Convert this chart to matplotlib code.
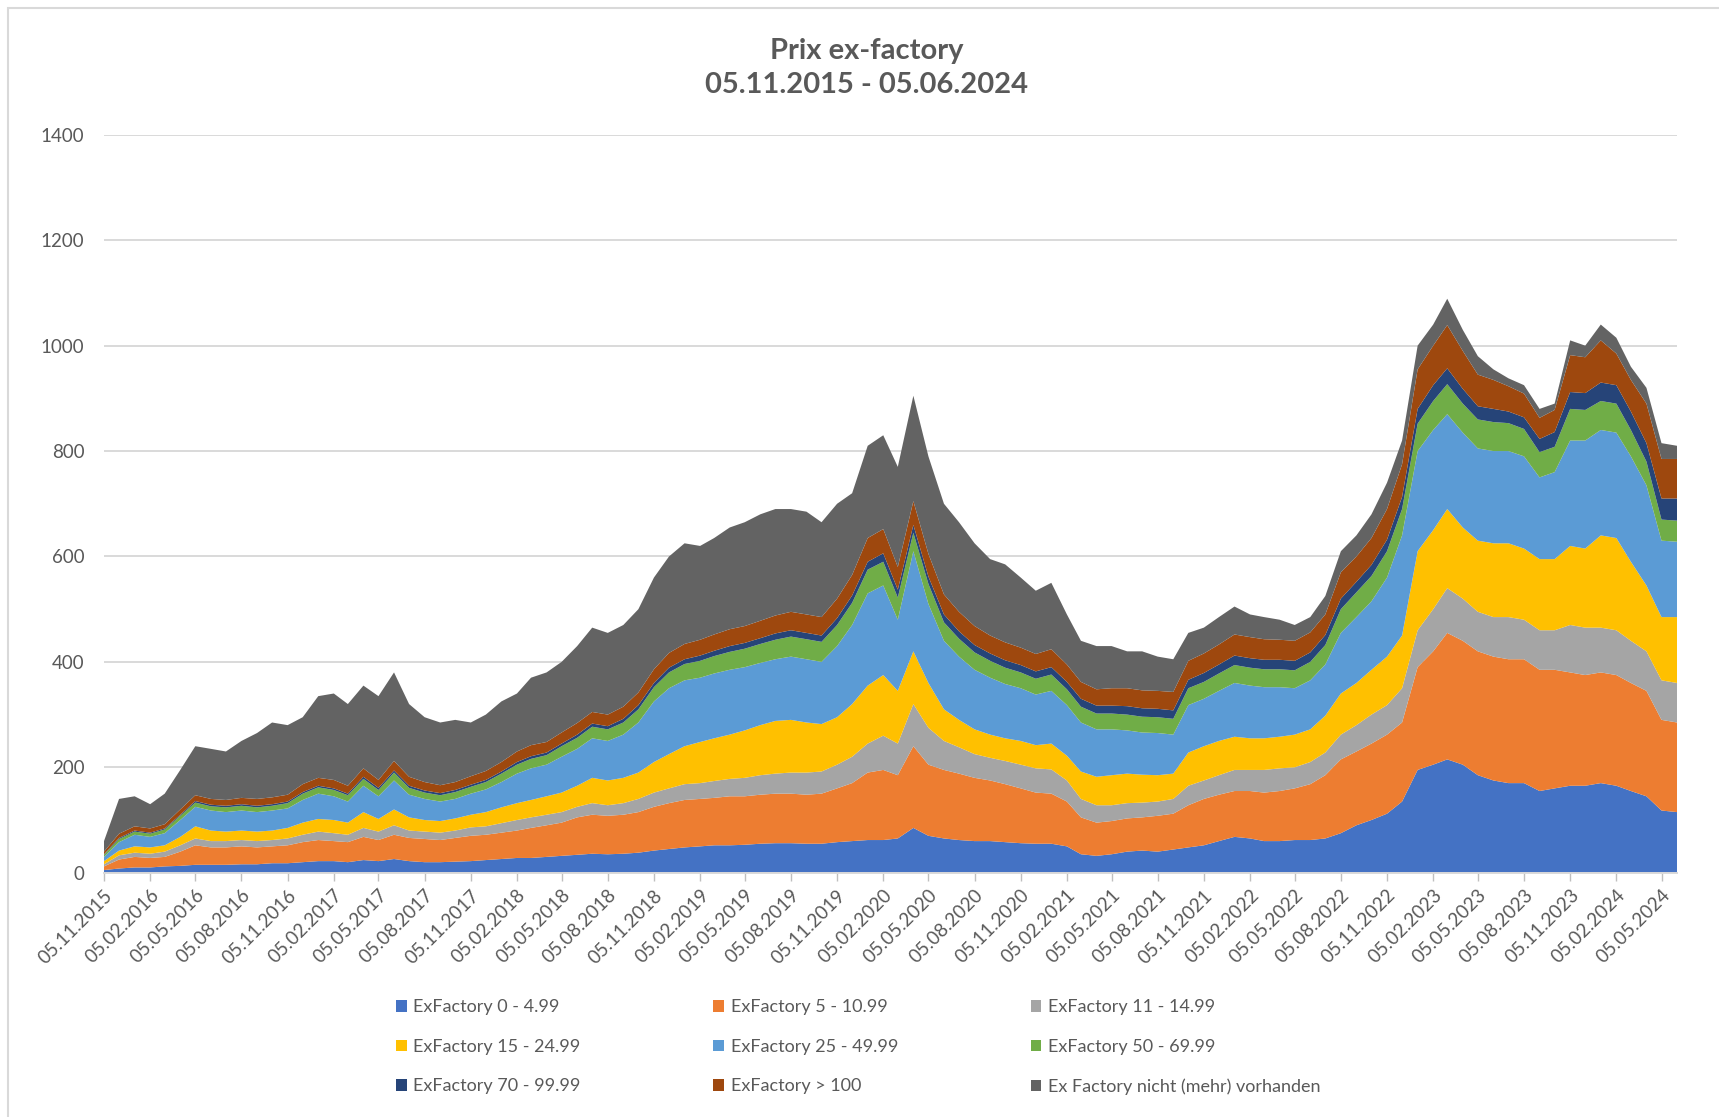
import pandas as pd
import matplotlib
matplotlib.use("Agg")
import matplotlib.pyplot as plt
from matplotlib.patches import Rectangle

# ---------------------------
# DATA (monthly readings, 05.11.2015 - 05.06.2024)
# ---------------------------
dates = pd.date_range("2015-11-01", "2024-06-01", freq="MS") + pd.Timedelta(days=4)

labels = [
    "ExFactory 0 - 4.99",
    "ExFactory 5 - 10.99",
    "ExFactory 11 - 14.99",
    "ExFactory 15 - 24.99",
    "ExFactory 25 - 49.99",
    "ExFactory 50 - 69.99",
    "ExFactory 70 - 99.99",
    "ExFactory > 100",
    "Ex Factory nicht (mehr) vorhanden",
]

ex_0_5 = [
    5, 8,
    10, 10, 12, 13, 15, 15, 15, 16, 16, 18, 18, 20,
    22, 22, 20, 24, 22, 26, 22, 20, 20, 21, 22, 24,
    26, 28, 28, 30, 32, 34, 36, 35, 36, 38, 42, 45,
    48, 50, 52, 52, 53, 55, 56, 56, 55, 55, 58, 60,
    62, 62, 65, 85, 70, 65, 62, 60, 60, 58, 56, 55,
    55, 50, 35, 32, 35, 40, 42, 40, 44, 48, 52, 60,
    68, 65, 60, 60, 62, 62, 65, 75, 90, 100, 112, 135,
    195, 205, 215, 205, 185, 175, 170, 170, 155, 160, 165, 165,
    170, 165, 155, 145, 118, 115,
]
ex_5_11 = [
    7, 17,
    20, 18, 18, 27, 37, 33, 33, 34, 32, 32, 34, 38,
    40, 38, 38, 44, 40, 46, 44, 44, 42, 45, 48, 48,
    50, 52, 57, 60, 63, 71, 74, 73, 74, 77, 83, 87,
    90, 90, 90, 93, 92, 93, 94, 94, 93, 95, 102, 110,
    128, 133, 120, 155, 135, 130, 126, 120, 115, 110, 104, 97,
    95, 85, 70, 63, 63, 63, 63, 68, 68, 80, 88, 88,
    87, 90, 92, 95, 98, 106, 120, 140, 140, 145, 150, 150,
    195, 215, 240, 235, 235, 235, 235, 235, 230, 225, 215, 210,
    210, 210, 205, 200, 172, 170,
]
ex_11_15 = [
    4, 8,
    8, 8, 10, 12, 13, 12, 12, 12, 12, 12, 13, 14,
    16, 15, 14, 17, 16, 18, 14, 14, 14, 14, 16, 16,
    18, 20, 20, 20, 20, 20, 22, 20, 22, 25, 27, 28,
    30, 30, 32, 33, 35, 37, 38, 40, 42, 42, 45, 50,
    55, 65, 60, 80, 70, 55, 50, 45, 43, 44, 45, 46,
    46, 40, 35, 33, 30, 29, 28, 27, 28, 37, 35, 37,
    40, 40, 43, 43, 40, 42, 43, 47, 50, 55, 56, 65,
    70, 80, 85, 80, 75, 75, 80, 75, 75, 75, 90, 90,
    85, 85, 80, 75, 75, 75,
]
ex_15_25 = [
    6, 9,
    12, 12, 12, 16, 23, 20, 18, 18, 18, 18, 20, 23,
    24, 25, 23, 30, 24, 30, 25, 22, 22, 23, 24, 27,
    30, 32, 33, 35, 37, 40, 48, 47, 48, 50, 58, 65,
    72, 78, 81, 84, 90, 95, 100, 100, 95, 90, 90, 100,
    110, 115, 100, 100, 85, 60, 52, 47, 44, 43, 45, 44,
    49, 47, 52, 54, 57, 56, 53, 50, 48, 63, 65, 65,
    63, 60, 60, 60, 62, 62, 70, 78, 80, 85, 92, 100,
    150, 150, 150, 135, 135, 140, 140, 135, 135, 135, 150, 150,
    175, 175, 150, 125, 120, 125,
]
ex_25_50 = [
    8, 16,
    22, 20, 23, 32, 37, 38, 37, 38, 37, 38, 37, 43,
    48, 45, 40, 50, 43, 55, 43, 40, 37, 37, 40, 43,
    48, 56, 60, 60, 68, 70, 75, 75, 82, 95, 115, 125,
    125, 122, 123, 123, 120, 118, 117, 120, 120, 118, 135, 150,
    175, 170, 135, 190, 150, 130, 120, 113, 108, 103, 100, 96,
    100, 96, 93, 90, 87, 82, 80, 80, 74, 90, 90, 95,
    102, 100, 97, 94, 88, 93, 97, 115, 125, 130, 150, 190,
    190, 190, 180, 180, 175, 175, 175, 175, 155, 165, 200, 205,
    200, 200, 200, 190, 145, 143,
]
ex_50_70 = [
    4, 6,
    6, 6, 7, 8, 8, 8, 9, 9, 9, 9, 10, 12,
    12, 12, 12, 13, 12, 15, 13, 12, 12, 13, 13, 14,
    16, 17, 18, 18, 20, 21, 22, 22, 23, 25, 27, 30,
    31, 32, 33, 34, 35, 36, 37, 38, 38, 38, 40, 42,
    45, 45, 42, 35, 38, 35, 34, 33, 32, 31, 30, 30,
    31, 30, 30, 30, 30, 30, 30, 30, 30, 32, 32, 33,
    34, 34, 34, 34, 34, 35, 37, 45, 47, 48, 50, 50,
    52, 55, 57, 55, 55, 55, 53, 52, 48, 48, 60, 58,
    55, 55, 50, 45, 40, 40,
]
ex_70_100 = [
    1, 2,
    2, 2, 2, 2, 3, 3, 3, 3, 3, 3, 3, 3,
    3, 3, 3, 4, 4, 4, 4, 4, 4, 4, 4, 4,
    4, 5, 5, 5, 5, 6, 6, 6, 7, 8, 8, 9,
    9, 10, 10, 11, 11, 11, 12, 12, 12, 12, 13, 14,
    15, 16, 15, 15, 14, 15, 14, 14, 14, 14, 14, 14,
    14, 14, 15, 15, 15, 16, 16, 16, 16, 16, 17, 17,
    18, 18, 18, 18, 18, 18, 19, 20, 20, 21, 22, 23,
    28, 30, 30, 28, 25, 25, 22, 22, 25, 28, 32, 32,
    35, 35, 35, 35, 40, 42,
]
ex_100 = [
    5, 8,
    8, 8, 8, 10, 11, 11, 11, 12, 13, 13, 13, 15,
    15, 16, 15, 16, 15, 18, 17, 16, 15, 15, 16, 17,
    18, 20, 21, 20, 21, 22, 22, 22, 23, 24, 26, 28,
    29, 30, 31, 32, 32, 33, 34, 35, 35, 35, 37, 39,
    45, 46, 43, 45, 43, 38, 37, 36, 34, 34, 33, 33,
    34, 33, 32, 31, 33, 34, 34, 34, 35, 36, 37, 38,
    40, 40, 39, 38, 38, 38, 39, 50, 48, 51, 58, 62,
    75, 75, 82, 72, 60, 55, 48, 45, 40, 42, 70, 68,
    80, 60, 60, 75, 75, 75,
]
ex_none = [
    20, 66,
    57, 46, 58, 75, 93, 95, 92, 108, 125, 142, 132, 127,
    155, 164, 155, 157, 159, 168, 138, 123, 119, 118, 102, 107,
    115, 110, 128, 132, 134, 146, 160, 155, 155, 158, 174, 183,
    191, 178, 183, 193, 197, 202, 202, 195, 195, 180, 180, 155,
    175, 178, 190, 200, 185, 172, 170, 157, 145, 148, 133, 120,
    126, 95, 78, 82, 80, 70, 74, 65, 62, 53, 49, 52,
    53, 43, 42, 38, 30, 29, 35, 40, 40, 45, 50, 45,
    45, 40, 50, 40, 35, 20, 15, 16, 17, 12, 28, 22,
    30, 30, 25, 30, 30, 25,
]

series = [ex_0_5, ex_5_11, ex_11_15, ex_15_25, ex_25_50,
          ex_50_70, ex_70_100, ex_100, ex_none]
colors = ["#4472C4", "#ED7D31", "#A5A5A5", "#FFC000", "#5B9BD5",
          "#70AD47", "#264478", "#9E480E", "#636363"]

text_color = "#595959"
grid_color = "#d9d9d9"
plt.rcParams["font.family"] = ["Lato", "DejaVu Sans"]

# ---------------------------
# FIGURE
# ---------------------------
fig = plt.figure(figsize=(17.19, 11.17), dpi=100)
ax = fig.add_axes([0.0605, 0.2187, 0.9151, 0.6606])

polys = ax.stackplot(dates, *series, colors=colors, labels=labels, linewidth=0)

ax.set_ylim(0, 1400)
ax.set_yticks(range(0, 1401, 200))
ax.set_xlim(dates[0], dates[-1])
ax.grid(axis="y", color=grid_color, linewidth=1.4)
ax.set_axisbelow(True)

for side in ["left", "right", "top"]:
    ax.spines[side].set_visible(False)
ax.spines["bottom"].set_color(grid_color)
ax.spines["bottom"].set_linewidth(1.4)

tick_dates = pd.date_range("2015-11-01", "2024-05-01", freq="3MS") + pd.Timedelta(days=4)
ax.set_xticks(tick_dates)
ax.set_xticklabels([d.strftime("%d.%m.%Y") for d in tick_dates],
                   rotation=45, ha="right", va="top", rotation_mode="anchor")
ax.tick_params(axis="x", colors=text_color, labelsize=13.5, length=6,
               width=1, color="#bfbfbf", pad=4)
ax.tick_params(axis="y", colors=text_color, labelsize=13.5, length=0, pad=14)

fig.text(0.504, 0.939, "Prix ex-factory\n05.11.2015 - 05.06.2024",
         ha="center", va="center", fontsize=21, fontweight="bold",
         color=text_color, linespacing=1.35)

# legend filled row by row like the original (matplotlib fills by column)
order = [0, 3, 6, 1, 4, 7, 2, 5, 8]
leg = fig.legend([polys[i] for i in order], [labels[i] for i in order],
                 ncol=3, loc="upper left", bbox_to_anchor=(0.221, 0.120),
                 frameon=False, fontsize=13, handlelength=0.6, handleheight=0.6,
                 handletextpad=0.35, columnspacing=7.35, labelspacing=1.3)
for t in leg.get_texts():
    t.set_color(text_color)

# chart border
fig.add_artist(Rectangle((8 / 1719, -0.01), 1.02, 1 - 8 / 1117 + 0.01,
                         transform=fig.transFigure, fill=False,
                         edgecolor=grid_color, linewidth=1.5))

fig.savefig("out.png", dpi=100, facecolor="white")
